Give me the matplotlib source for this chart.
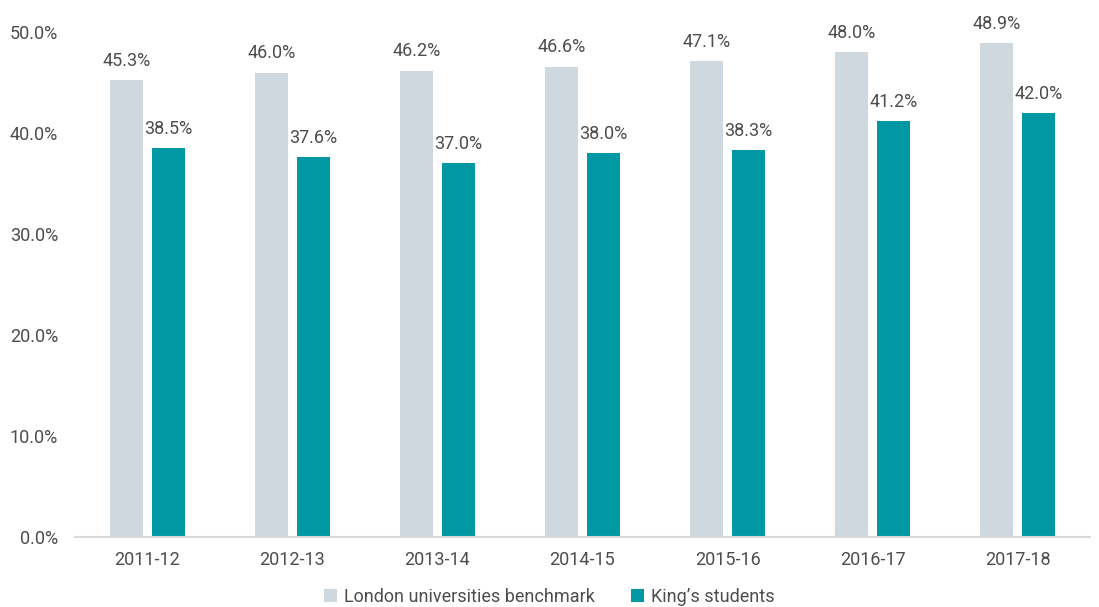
import matplotlib
matplotlib.use("Agg")
import matplotlib.pyplot as plt
import numpy as np
from matplotlib import font_manager

years = ["2011-12", "2012-13", "2013-14", "2014-15", "2015-16", "2016-17", "2017-18"]
london_benchmark = [45.3, 46.0, 46.2, 46.6, 47.1, 48.0, 48.9]
kings_students = [38.5, 37.6, 37.0, 38.0, 38.3, 41.2, 42.0]
series_names = ["London universities benchmark", "King\u2019s students"]

available = {f.name for f in font_manager.fontManager.ttflist}
family = "Liberation Sans Narrow" if "Liberation Sans Narrow" in available else "Roboto"
plt.rcParams["font.family"] = [family, "DejaVu Sans"]

grey = "#CFD8DF"
teal = "#0099A3"
text_col = "#4D4D4D"

fig = plt.figure(figsize=(10.99, 6.07), dpi=100)
ax = fig.add_axes([0.068, 0.1153, 0.924, 0.8317])

x = np.arange(len(years))
w = 0.23
off = 0.145
b1 = ax.bar(x - off, london_benchmark, w, color=grey, label=series_names[0])
b2 = ax.bar(x + off, kings_students, w, color=teal, label=series_names[1])

for bars, vals in ((b1, london_benchmark), (b2, kings_students)):
    for r, v in zip(bars, vals):
        ax.text(r.get_x() + r.get_width() / 2, v + 1.0, f"{v:.1f}%",
                ha="center", va="bottom", fontsize=13, color=text_col)

ax.set_xlim(-0.5, len(years) - 0.5)
ax.set_ylim(0, 50)
ax.set_yticks(np.arange(0, 51, 10))
ax.set_yticklabels([f"{t:.1f}%" for t in np.arange(0, 51, 10)])
ax.set_xticks(x)
ax.set_xticklabels(years)
ax.tick_params(axis="both", length=0, labelsize=13, colors=text_col)
ax.tick_params(axis="x", pad=10)
ax.tick_params(axis="y", pad=12)
for s in ("top", "right", "left"):
    ax.spines[s].set_visible(False)
ax.spines["bottom"].set_color("#D9D9D9")
ax.spines["bottom"].set_linewidth(1.5)

leg = fig.legend(handles=[b1, b2], loc="lower center", bbox_to_anchor=(0.5, -0.025),
                 ncol=2, frameon=False, fontsize=13, handlelength=0.7, handleheight=0.7,
                 handletextpad=0.4, columnspacing=2.0)
for t in leg.get_texts():
    t.set_color(text_col)

fig.savefig("out.png", dpi=100)
